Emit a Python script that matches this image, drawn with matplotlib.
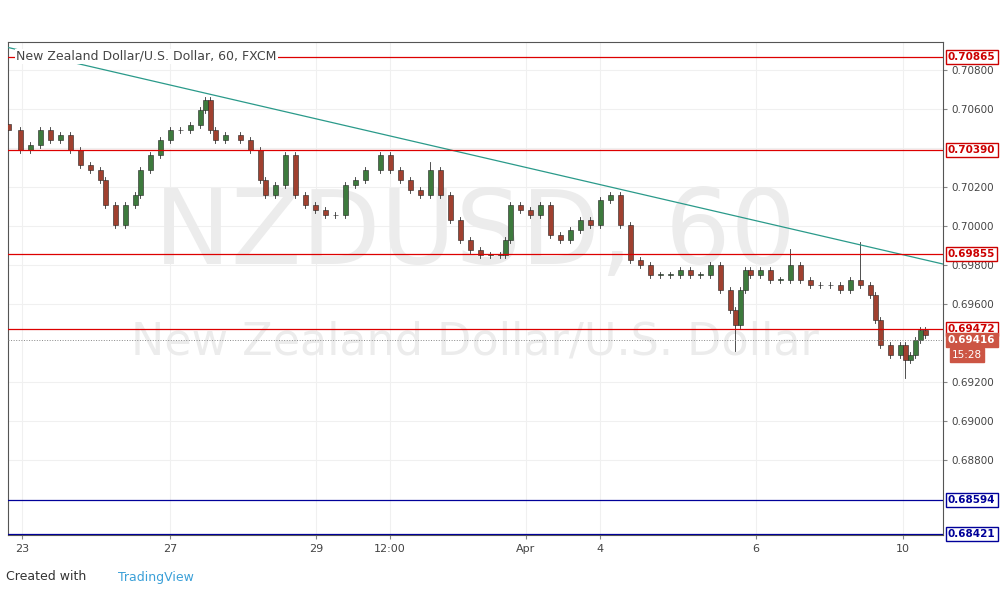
import matplotlib.pyplot as plt
from matplotlib.patches import Rectangle

# pixel-x of each sampled candle (chart pixels) and its close price
xs = [8, 20, 30, 40, 50, 60, 70, 80, 90, 100, 105, 115, 125, 135, 140, 150, 160, 170, 180, 190,
      200, 205, 210, 215, 225, 240, 250, 260, 265, 275, 285, 295, 305, 315, 325, 335, 345, 355, 365, 380,
      390, 400, 410, 420, 430, 440, 450, 460, 470, 480, 490, 500, 505, 510, 520, 530, 540, 550, 560, 570,
      580, 590, 600, 610, 620, 630, 640, 650, 660, 670, 680, 690, 700, 710, 720, 730, 735, 740, 745, 750,
      760, 770, 780, 790, 800, 810, 820, 830, 840, 850, 860, 870, 875, 880, 890, 900, 905, 910, 915, 920, 925]
closes = [.70492, .70390, .70415, .70492, .70441, .70467, .70390, .70313, .70287, .70236, .70108, .70005, .70108, .70159, .70287, .70364, .70441, .70492, .70492, .70518,
          .70595, .70646, .70492, .70441, .70467, .70441, .70390, .70236, .70159, .70210, .70364, .70159, .70108, .70082, .70056, .70056, .70210, .70236, .70287, .70364,
          .70287, .70236, .70185, .70159, .70287, .70159, .70031, .69928, .69877, .69851, .69851, .69851, .69928, .70108, .70082, .70056, .70108, .69954, .69928, .69979,
          .70031, .70005, .70133, .70159, .70005, .69826, .69800, .69749, .69749, .69749, .69774, .69749, .69749, .69800, .69672, .69569, .69492, .69672, .69774, .69749,
          .69774, .69723, .69723, .69800, .69723, .69697, .69697, .69697, .69672, .69723, .69697, .69646, .69518, .69390, .69338, .69390, .69313, .69338, .69415, .69467, .69441]
spikes = {8: .70680, 205: .70660, 430: .70330, 735: .69360, 790: .69880, 860: .69920, 905: .69220}

red_levels = [0.70865, 0.70390, 0.69855, 0.69472]
blue_levels = [0.68594, 0.68421]
last_price = 0.69416
ticks = [0.70800, 0.70600, 0.70200, 0.70000, 0.69800, 0.69600, 0.69200, 0.69000, 0.68800]
xlabels = ["23", "27", "29", "12:00", "Apr", "4", "6", "10"]
xlabel_px = [22, 170, 316, 390, 526, 600, 756, 903]

fig = plt.figure(figsize=(10.02, 5.95), dpi=100)
ax = fig.add_axes([8 / 1002, 60 / 595, 935 / 1002, 493 / 595])
ax.set_xlim(0, 935)
ax.set_ylim(0.68415, 0.70944)

for t in ticks + [0.70400]:
    ax.axhline(t, color="#f0f0f0", lw=0.8, zorder=0)
for p in xlabel_px:
    ax.axvline(p - 8, color="#f0f0f0", lw=0.8, zorder=0)

ax.text(467, 0.6995, "NZDUSD, 60", fontsize=74, color="#ececec", ha="center", va="center", zorder=0)
ax.text(467, 0.69405, "New Zealand Dollar/U.S. Dollar", fontsize=32, color="#ececec", ha="center", va="center", zorder=0)
ax.text(8, 0.7087, "New Zealand Dollar/U.S. Dollar, 60, FXCM", fontsize=9, color="#444444", va="center",
        zorder=6, bbox=dict(facecolor="white", edgecolor="none", pad=1))

prev = closes[0] + 0.0003
for x, c in zip(xs, closes):
    o = prev
    hi = max(o, c) + 0.00015
    lo = min(o, c) - 0.00015
    if x in spikes:
        s = spikes[x]
        hi, lo = max(hi, s), min(lo, s)
    xx = x - 8
    ax.plot([xx, xx], [lo, hi], color="#333333", lw=0.6, zorder=2)
    col = "#3d7a3d" if c >= o else "#a0402f"
    ax.add_patch(Rectangle((xx - 2.5, min(o, c)), 5, max(abs(c - o), 0.00003),
                           facecolor=col, edgecolor="#222222", lw=0.4, zorder=3))
    prev = c

ax.plot([0, 935], [0.70916, 0.69805], color="#2a9a8a", lw=0.9, zorder=4)

for lv in red_levels:
    ax.axhline(lv, color="#dd0000", lw=0.9, zorder=4)
for lv in blue_levels:
    ax.axhline(lv, color="#000099", lw=0.9, zorder=4)
ax.axhline(last_price, color="#888888", lw=0.7, ls=":", zorder=4)

ax.yaxis.tick_right()
ax.set_yticks(ticks)
ax.set_yticklabels([f"{t:.5f}" for t in ticks], fontsize=7.5, color="#444444")
ax.tick_params(axis="y", length=3, pad=3, colors="#888888", labelcolor="#444444")
ax.set_xticks([p - 8 for p in xlabel_px])
ax.set_xticklabels(xlabels, fontsize=8, color="#444444")
ax.tick_params(axis="x", length=3, colors="#888888", labelcolor="#444444")
for sp in ax.spines.values():
    sp.set_color("#555555")
    sp.set_linewidth(0.8)

for lv in red_levels:
    ax.text(940, lv, f"{lv:.5f}", fontsize=7.5, color="#cc0000", weight="bold", va="center",
            bbox=dict(facecolor="white", edgecolor="#cc0000", pad=1.5), clip_on=False)
for lv in blue_levels:
    ax.text(940, lv, f"{lv:.5f}", fontsize=7.5, color="#000099", weight="bold", va="center",
            bbox=dict(facecolor="white", edgecolor="#000099", pad=1.5), clip_on=False)
ax.text(940, last_price, f"{last_price:.5f}", fontsize=7.5, color="white", weight="bold", va="center",
        bbox=dict(facecolor="#cc5544", edgecolor="#cc5544", pad=1.5), clip_on=False)
ax.text(944, 0.69338, "15:28", fontsize=7.5, color="white", va="center",
        bbox=dict(facecolor="#cc5544", edgecolor="#cc5544", pad=1.5), clip_on=False)

fig.text(6 / 1002, 1 - 577 / 595, "Created with", fontsize=9, color="#333333", va="center")
fig.text(118 / 1002, 1 - 577 / 595, "TradingView", fontsize=9, color="#3ba0d8", va="center")

fig.savefig("out.png", dpi=100)
